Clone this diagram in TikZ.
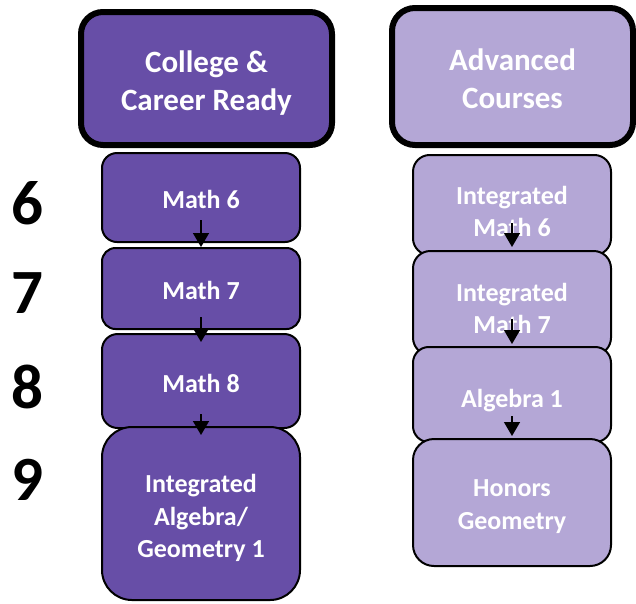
\documentclass[tikz,border=0pt]{standalone}
\usepackage{fontspec}
\setmainfont{Carlito}
\usetikzlibrary{arrows.meta}
\definecolor{dk}{HTML}{674EA7}
\definecolor{lt}{HTML}{B4A7D6}
\begin{document}
\begin{tikzpicture}[x=1pt,y=-1pt,
  box/.style={draw=black, line width=2pt, minimum width=198pt, inner sep=0pt},
  btxt/.style={text=white, font=\bfseries\fontsize{26}{32.5}\selectfont, align=center, inner sep=0pt},
  head/.style={draw=black, line width=6pt, inner sep=0pt},
  htxt/.style={text=white, font=\bfseries\fontsize{31}{38}\selectfont, align=center, inner sep=0pt},
  num/.style={font=\bfseries\fontsize{63}{63}\selectfont, inner sep=0pt},
  arr/.style={line width=1.5pt, -{Triangle[width=16pt,length=14pt]}}]
\useasboundingbox (0,0) rectangle (636,603);
% headers
\node[head, fill=dk, minimum width=251pt, minimum height=133pt, rounded corners=22pt] (h1) at (206.5,78.5) {};
\node[htxt] (h1t) at ([yshift=-4.5pt]h1.center) {College \&\\Career Ready};
\node[head, fill=lt, minimum width=241pt, minimum height=137pt, rounded corners=23pt] (h2) at (512.5,76.5) {};
\node[htxt] (h2t) at ([yshift=-2.5pt]h2.center) {Advanced\\Courses};
% left column
\node[box, fill=dk, minimum height=89pt, rounded corners=15pt] (m6) at (201,197.5) {};
\node[btxt] (m6t) at ([yshift=-2pt]m6.center) {Math 6};
\node[box, fill=dk, minimum height=81pt, rounded corners=13.5pt] (m7) at (201,288.5) {};
\node[btxt] (m7t) at ([yshift=-2pt]m7.center) {Math 7};
\node[box, fill=dk, minimum height=94pt, rounded corners=15.7pt] (m8) at (201,381) {};
\node[btxt] (m8t) at ([yshift=-2pt]m8.center) {Math 8};
\node[box, fill=dk, minimum height=173pt, rounded corners=30pt] (ia) at (201,513.5) {};
\node[btxt] (iat) at ([yshift=-4.5pt]ia.center) {Integrated\\Algebra/\\Geometry 1};
% right column
\node[box, fill=lt, minimum height=100pt, rounded corners=16.7pt] (im6) at (512,205) {};
\node[btxt] (im6t) at ([yshift=-6.5pt]im6.center) {Integrated\\Math 6};
\node[box, fill=lt, minimum height=104pt, rounded corners=17.3pt] (im7) at (512,303) {};
\node[btxt] (im7t) at ([yshift=-5.5pt]im7.center) {Integrated\\Math 7};
\node[box, fill=lt, minimum height=95pt, rounded corners=15.8pt] (al) at (512,394.5) {};
\node[btxt] (alt) at ([yshift=-6pt]al.center) {Algebra 1};
\node[box, fill=lt, minimum height=127pt, rounded corners=21pt] (hg) at (512,502.5) {};
\node[btxt] (hgt) at ([yshift=-4pt]hg.center) {Honors\\Geometry};
% grade numbers
\node[num] (g6) at (27,203) {6};
\node[num] (g7) at (27,293) {7};
\node[num] (g8) at (27,387) {8};
\node[num] (g9) at (27,480) {9};
% arrows
\draw[arr] ([yshift=23pt]m6.south) -- (m7.north);
\draw[arr] ([yshift=13pt]m7.south) -- ([yshift=-9pt]m8.north);
\draw[arr] ([yshift=15pt]m8.south) -- ([yshift=-9pt]ia.north);
\draw[arr] ([yshift=33pt]im6.south) -- ([yshift=3pt]im7.north);
\draw[arr] ([yshift=37pt]im7.south) -- ([yshift=2pt]al.north);
\draw[arr] ([yshift=27pt]al.south) -- ([yshift=2pt]hg.north);
\end{tikzpicture}
\end{document}
